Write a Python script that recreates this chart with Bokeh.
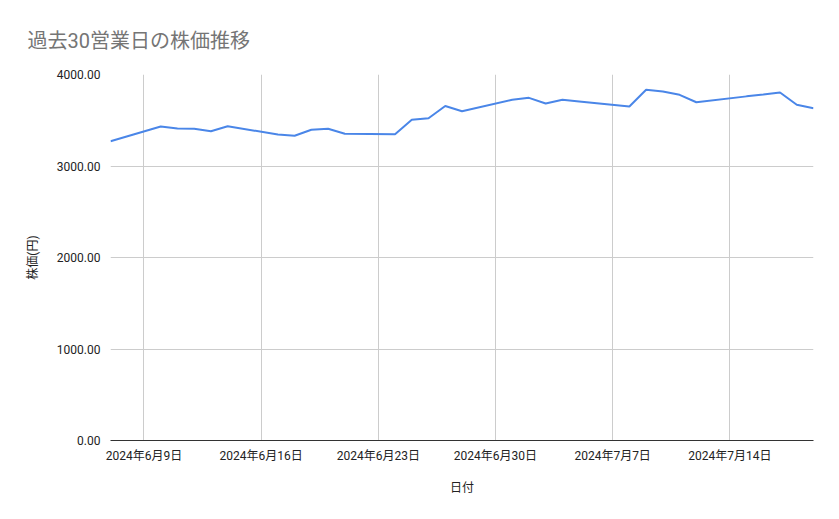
import pandas as pd
from bokeh.plotting import figure
from bokeh.models import Range1d, FixedTicker, NumeralTickFormatter, Title, ColumnDataSource
from bokeh.embed import file_html
from bokeh.resources import INLINE

# 過去30営業日の終値
dates = [
    "2024-06-07", "2024-06-10", "2024-06-11", "2024-06-12", "2024-06-13", "2024-06-14",
    "2024-06-17", "2024-06-18", "2024-06-19", "2024-06-20", "2024-06-21",
    "2024-06-24", "2024-06-25", "2024-06-26", "2024-06-27", "2024-06-28",
    "2024-07-01", "2024-07-02", "2024-07-03", "2024-07-04", "2024-07-05",
    "2024-07-08", "2024-07-09", "2024-07-10", "2024-07-11", "2024-07-12",
    "2024-07-15", "2024-07-16", "2024-07-17", "2024-07-18", "2024-07-19",
]
prices = [
    3271, 3432, 3410, 3407, 3380, 3435,
    3344, 3330, 3396, 3407, 3352,
    3348, 3505, 3522, 3656, 3599,
    3723, 3745, 3683, 3723, 3705,
    3650, 3833, 3814, 3778, 3697,
    3761, 3781, 3803, 3669, 3632,
]
tick_dates = ["2024-06-09", "2024-06-16", "2024-06-23", "2024-06-30", "2024-07-07", "2024-07-14"]
tick_labels = ["2024年6月9日", "2024年6月16日", "2024年6月23日", "2024年6月30日", "2024年7月7日", "2024年7月14日"]
y_ticks = [0, 1000, 2000, 3000, 4000]

FONT = "Roboto, 'Noto Sans CJK JP', sans-serif"

x = pd.to_datetime(dates)
source = ColumnDataSource(data=dict(x=x, price=prices))
tick_ms = [float(pd.Timestamp(d).value // 10**6) for d in tick_dates]

p = figure(
    width=831,
    height=511,
    x_axis_type="datetime",
    x_range=Range1d(x[0], x[-1]),
    y_range=Range1d(0, 4000),
    output_backend="svg",
    toolbar_location=None,
    min_border_left=110,
    min_border_right=18,
    min_border_top=74,
    min_border_bottom=71,
)
p.outline_line_color = None

title = Title(
    text="過去30営業日の株価推移",
    text_font=FONT,
    text_font_size="20px",
    text_font_style="normal",
    text_color="#757575",
    align="left",
    offset=-83,
    standoff=44,
)
p.add_layout(title, "above")

p.line("x", "price", source=source, line_color="#4a86e8", line_width=2)

xa = p.xaxis[0]
xa.ticker = FixedTicker(ticks=tick_ms)
xa.major_label_overrides = dict(zip(tick_ms, tick_labels))
xa.axis_label = "日付"
xa.axis_label_text_font = FONT
xa.axis_label_text_font_size = "12px"
xa.axis_label_text_font_style = "normal"
xa.axis_label_text_color = "#222222"
xa.axis_label_standoff = 15
xa.major_label_text_font = FONT
xa.major_label_text_font_size = "12px"
xa.major_label_text_color = "#222222"
xa.major_label_standoff = 2
xa.axis_line_color = "#333333"
xa.axis_line_width = 1
xa.major_tick_line_color = None
xa.minor_tick_line_color = None

ya = p.yaxis[0]
ya.ticker = FixedTicker(ticks=y_ticks)
ya.formatter = NumeralTickFormatter(format="0.00")
ya.axis_label = "株価(円)"
ya.axis_label_text_font = FONT
ya.axis_label_text_font_size = "12px"
ya.axis_label_text_font_style = "normal"
ya.axis_label_text_color = "#222222"
ya.axis_label_standoff = 14
ya.major_label_text_font = FONT
ya.major_label_text_font_size = "12px"
ya.major_label_text_color = "#222222"
ya.major_label_standoff = 4
ya.axis_line_color = None
ya.major_tick_line_color = None
ya.minor_tick_line_color = None

p.xgrid[0].ticker = FixedTicker(ticks=tick_ms)
p.xgrid[0].grid_line_color = "#cccccc"
p.ygrid[0].ticker = FixedTicker(ticks=y_ticks)
p.ygrid[0].grid_line_color = "#cccccc"

open("out.html", "w").write(file_html(p, INLINE))
